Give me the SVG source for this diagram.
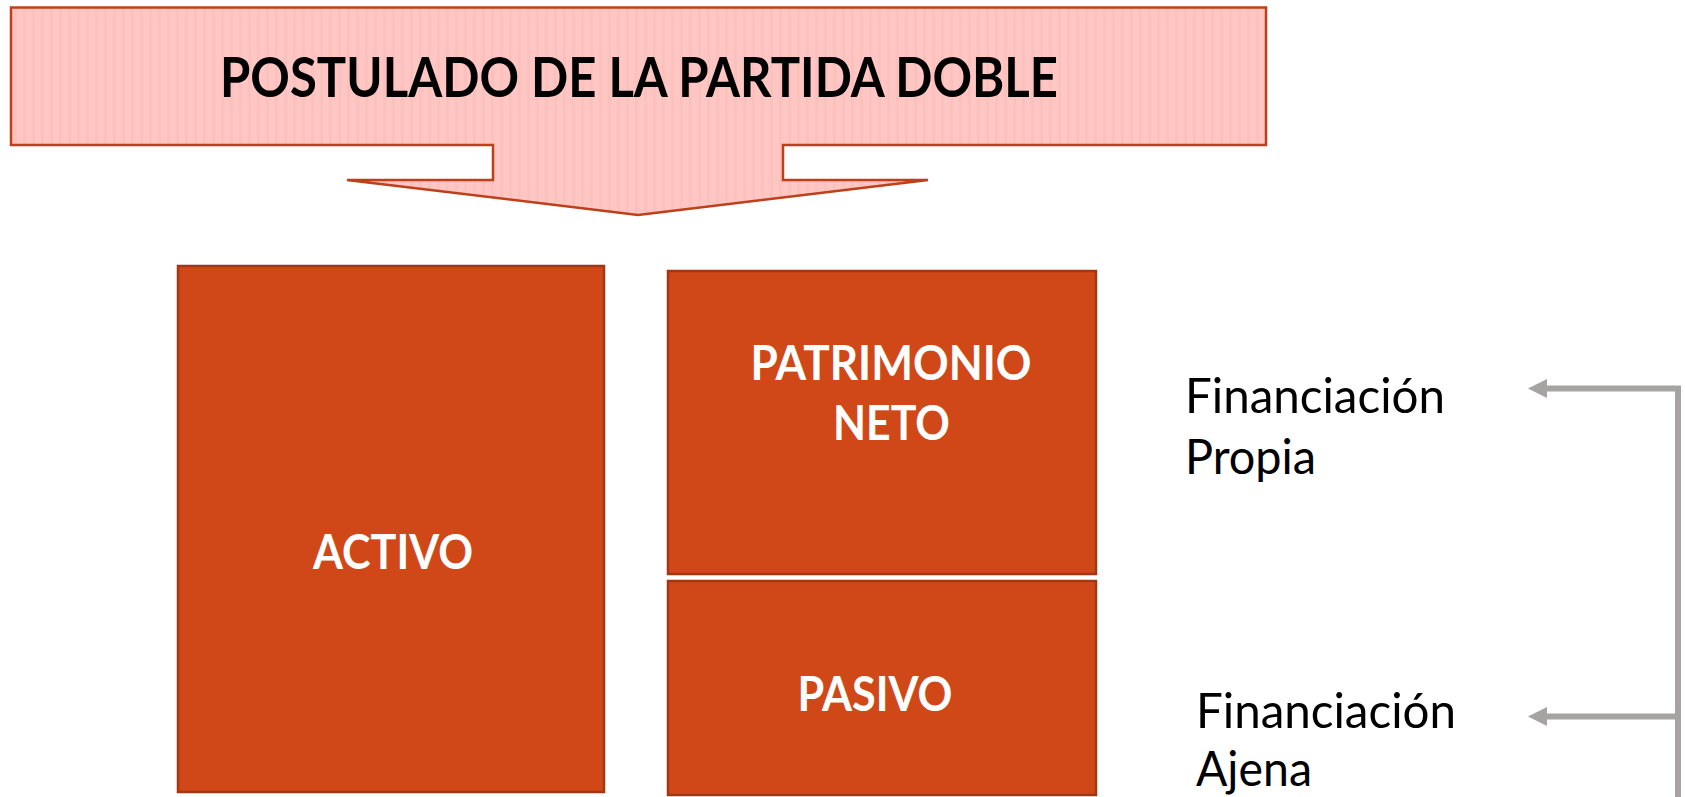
<svg xmlns="http://www.w3.org/2000/svg" width="1685" height="797" viewBox="0 0 1685 797">
<style>
.box{fill:#D14818;stroke:#A33714;stroke-width:2.5}
.bt{font-family:Lato,"Open Sans","Liberation Sans",sans-serif;font-weight:bold;fill:#FFFFFF;text-anchor:middle}
.rt{font-family:Lato,"Open Sans","Liberation Sans",sans-serif;fill:#000000}
.conn{fill:none;stroke:#A6A4A3;stroke-width:6;stroke-linejoin:miter}
</style>
<defs>
<pattern id="stripes" patternUnits="userSpaceOnUse" width="9" height="20">
<rect width="9" height="20" fill="#FFC7C4"/>
<rect x="5" width="3" height="20" fill="#FCC0BD"/>
</pattern>
<marker id="ah" markerUnits="userSpaceOnUse" viewBox="0 0 19 19" refX="2" refY="9.5" markerWidth="19" markerHeight="19" orient="auto">
<path d="M0,0 L19,9.5 L0,19 z" fill="#A6A4A3"/>
</marker>
</defs>
<rect width="1685" height="797" fill="#FFFFFF"/>
<g id="banner">
<polygon points="11,7.5 1266,7.5 1266,145 783,145 783,180 928,180 638,215 347,180 493,180 493,145 11,145" fill="url(#stripes)" stroke="#BE3F1A" stroke-width="2.5"/>
<text x="220" y="97" font-family="Lato,'Open Sans','Liberation Sans',sans-serif" font-weight="bold" font-size="56" fill="#000000" textLength="838" lengthAdjust="spacingAndGlyphs">POSTULADO DE LA PARTIDA DOBLE</text>
</g>
<g id="activo">
<rect class="box" x="178" y="266" width="426" height="526"/>
<text class="bt" x="393" y="569" font-size="48" textLength="160" lengthAdjust="spacingAndGlyphs">ACTIVO</text>
</g>
<g id="patrimonio-neto">
<rect class="box" x="668" y="271" width="428" height="303"/>
<text class="bt" x="891" y="380" font-size="48" textLength="281" lengthAdjust="spacingAndGlyphs">PATRIMONIO</text>
<text class="bt" x="891.5" y="440" font-size="48" textLength="117" lengthAdjust="spacingAndGlyphs">NETO</text>
</g>
<g id="pasivo">
<rect class="box" x="668" y="581" width="428" height="214"/>
<text class="bt" x="875" y="711" font-size="48" textLength="155" lengthAdjust="spacingAndGlyphs">PASIVO</text>
</g>
<g id="financiacion-propia">
<text class="rt" x="1185" y="413" font-size="49" textLength="260" lengthAdjust="spacingAndGlyphs">Financiación</text>
<text class="rt" x="1185" y="474" font-size="49" textLength="131" lengthAdjust="spacingAndGlyphs">Propia</text>
</g>
<g id="financiacion-ajena">
<text class="rt" x="1196" y="728" font-size="49" textLength="260" lengthAdjust="spacingAndGlyphs">Financiación</text>
<text class="rt" x="1196" y="786" font-size="49" textLength="116" lengthAdjust="spacingAndGlyphs">Ajena</text>
</g>
<g id="connectors">
<path class="conn" d="M1678,797 V388.5 H1545" marker-end="url(#ah)"/>
<path class="conn" d="M1678,716.5 H1545" marker-end="url(#ah)"/>
</g>
</svg>
